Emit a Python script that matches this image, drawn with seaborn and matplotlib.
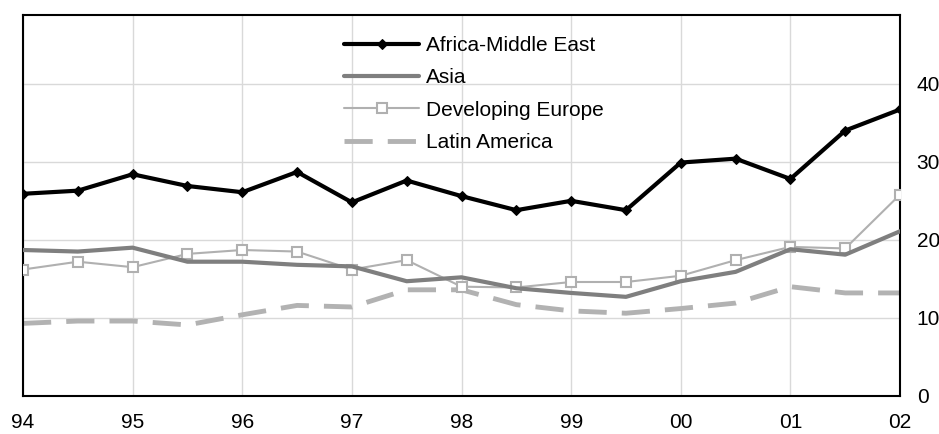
import numpy as np
import pandas as pd
import matplotlib
matplotlib.use("Agg")
import matplotlib.pyplot as plt
import seaborn as sns

# half-yearly observations, 1994 to 2002
periods = np.arange(1994, 2002.01, 0.5)
year_ticks = [1994, 1995, 1996, 1997, 1998, 1999, 2000, 2001, 2002]
year_labels = ['94', '95', '96', '97', '98', '99', '00', '01', '02']

africa_me = [25.9, 26.3, 28.4, 26.9, 26.1, 28.7, 24.8, 27.6, 25.6,
             23.8, 25.0, 23.8, 29.9, 30.4, 27.8, 34.0, 36.7]
asia = [18.7, 18.5, 19.0, 17.2, 17.2, 16.8, 16.6, 14.7, 15.2,
        13.8, 13.2, 12.7, 14.7, 15.9, 18.8, 18.1, 21.1]
dev_europe = [16.2, 17.2, 16.5, 18.2, 18.7, 18.5, 16.2, 17.4, 14.0,
              13.9, 14.6, 14.6, 15.4, 17.4, 19.1, 18.9, 25.8]
latin_america = [9.3, 9.6, 9.6, 9.1, 10.4, 11.6, 11.4, 13.6, 13.6,
                 11.7, 10.9, 10.6, 11.2, 11.9, 14.0, 13.2, 13.2]

df = pd.DataFrame({
    'period': periods,
    'Africa-Middle East': africa_me,
    'Asia': asia,
    'Developing Europe': dev_europe,
    'Latin America': latin_america,
})

sns.set_style("white")
plt.rcParams['font.family'] = ['Liberation Sans', 'DejaVu Sans']

fig = plt.figure(figsize=(9.39, 4.34), dpi=100)
ax = fig.add_axes([0.0245, 0.0876, 0.9340, 0.8778])

sns.lineplot(data=df, x='period', y='Africa-Middle East', ax=ax, color='black',
             lw=3, marker='D', markersize=5, markeredgecolor='black',
             label='Africa-Middle East', zorder=5)
sns.lineplot(data=df, x='period', y='Asia', ax=ax, color='#7f7f7f',
             lw=3, label='Asia', zorder=4)
sns.lineplot(data=df, x='period', y='Developing Europe', ax=ax, color='#b0b0b0',
             lw=1.5, marker='s', markersize=6.5, markerfacecolor='white',
             markeredgecolor='#b0b0b0', markeredgewidth=1.5,
             label='Developing Europe', zorder=3)
sns.lineplot(data=df, x='period', y='Latin America', ax=ax, color='#b2b2b2',
             lw=3.5, dashes=False, linestyle=(0, (5.8, 3.1)),
             label='Latin America', zorder=2)

ax.set_xlim(1994, 2002)
ax.set_ylim(0, 48.8)
ax.set_xticks(year_ticks)
ax.set_xticklabels(year_labels)
ax.set_yticks([0, 10, 20, 30, 40])
ax.yaxis.tick_right()
ax.tick_params(axis='both', length=0, labelsize=15, labelcolor='black')
ax.tick_params(axis='y', pad=12)
ax.tick_params(axis='x', pad=12)
ax.set_xlabel('')
ax.set_ylabel('')

ax.grid(True, color='#d9d9d9', lw=1)
ax.set_axisbelow(True)
for s in ax.spines.values():
    s.set_visible(True)
    s.set_color('black')
    s.set_linewidth(1.5)

leg = ax.legend(loc='upper left', bbox_to_anchor=(0.357, 0.967), frameon=False,
                fontsize=15, handlelength=3.6, handletextpad=0.3,
                labelspacing=0.64, borderaxespad=0)
for t in leg.get_texts():
    t.set_color('black')

fig.savefig('out.png', dpi=100)
